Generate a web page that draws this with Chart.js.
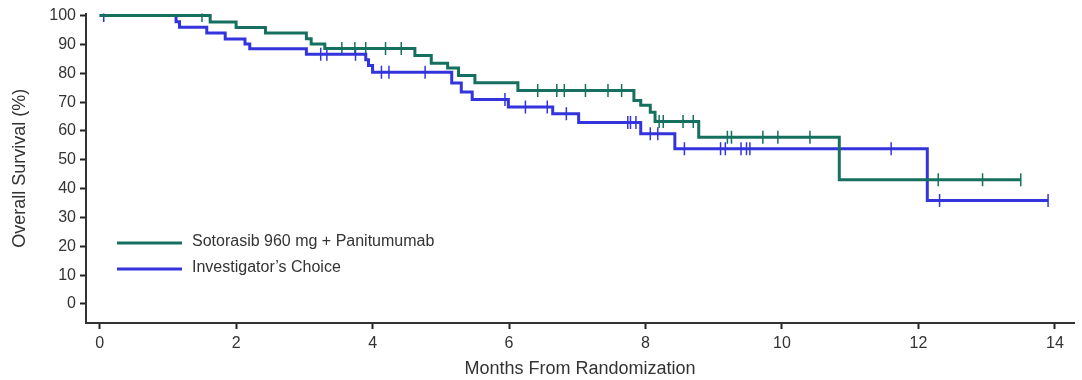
<!DOCTYPE html>
<html>
<head>
<meta charset="utf-8">
<script src="https://cdn.jsdelivr.net/npm/chart.js@4"></script>
<style>
  html, body { margin: 0; padding: 0; background: #fff; }
  #wrap { width: 1082px; height: 380px; }
</style>
</head>
<body>
<div id="wrap"><canvas id="myChart" width="1082" height="380"></canvas></div>
<script>
// Kaplan-Meier steps: time (months) and survival (%) after each drop
const sotoTimes = [0, 1.62, 2.0, 2.43, 3.03, 3.1, 3.3, 4.62, 4.86, 5.1, 5.26, 5.5, 6.13, 7.83, 7.93, 8.07, 8.14, 8.78, 10.84, 13.5];
const sotoSurv  = [100, 97.8, 95.9, 94.0, 92.0, 90.2, 88.6, 86.2, 83.5, 81.8, 79.2, 76.7, 74.0, 70.6, 68.9, 66.5, 63.3, 57.8, 43.1, 43.1];
const sotoCensor = [1.5, 3.55, 3.74, 3.9, 4.19, 4.42, 6.42, 6.7, 6.81, 7.12, 7.45, 7.65, 8.2, 8.26, 8.55, 8.7, 9.2, 9.26, 9.72, 9.94, 10.41, 12.29, 12.94, 13.5];

const invTimes = [0, 1.12, 1.17, 1.57, 1.84, 2.13, 2.2, 3.03, 3.9, 3.94, 4.0, 5.16, 5.3, 5.46, 5.99, 6.64, 7.02, 7.93, 8.43, 12.13, 13.9];
const invSurv  = [100, 97.9, 96.0, 94.0, 91.9, 90.2, 88.5, 86.6, 84.7, 82.7, 80.4, 76.6, 73.5, 70.9, 68.3, 66.0, 62.9, 59.0, 53.8, 35.9, 35.9];
const invCensor = [0.06, 3.24, 3.33, 3.75, 4.13, 4.24, 4.77, 5.94, 6.24, 6.56, 6.84, 7.74, 7.78, 7.86, 8.07, 8.18, 8.57, 9.1, 9.17, 9.4, 9.48, 9.53, 11.6, 12.31, 13.9];

const xTicks = [0, 2, 4, 6, 8, 10, 12, 14];
const yTicks = [0, 10, 20, 30, 40, 50, 60, 70, 80, 90, 100];

const greenCol = '#16705f';
const blueCol = '#3434dc';
const textCol = '#333';
const fontFam = '"Liberation Sans", Arial, sans-serif';

function stepPoints(times, surv) {
    return times.map((t, i) => ({ x: t, y: surv[i] }));
}
function survAt(times, surv, t) {
    let v = surv[0];
    for (let i = 0; i < times.length; i++) {
        if (times[i] <= t) v = surv[i];
    }
    return v;
}
function censorPoints(cens, times, surv) {
    return cens.map(t => ({ x: t, y: survAt(times, surv, t) }));
}

const legendPlugin = {
    id: 'kmLegend',
    afterDatasetsDraw(chart) {
        const ctx = chart.ctx;
        const items = [
            { text: 'Sotorasib 960 mg + Panitumumab', color: greenCol, y: 243 },
            { text: 'Investigator\u2019s Choice', color: blueCol, y: 269 }
        ];
        ctx.save();
        ctx.font = '16px ' + fontFam;
        ctx.textBaseline = 'middle';
        items.forEach(it => {
            ctx.strokeStyle = it.color;
            ctx.lineWidth = 3;
            ctx.beginPath();
            ctx.moveTo(117, it.y);
            ctx.lineTo(182, it.y);
            ctx.stroke();
            ctx.fillStyle = textCol;
            ctx.fillText(it.text, 192, it.y - 1);
        });
        ctx.restore();
    }
};

const data = {
    datasets: [
        {
            label: 'Sotorasib 960 mg + Panitumumab',
            data: stepPoints(sotoTimes, sotoSurv),
            borderColor: greenCol,
            borderWidth: 3,
            stepped: 'before',
            pointRadius: 0,
            showLine: true
        },
        {
            label: 'Investigator\u2019s Choice',
            data: stepPoints(invTimes, invSurv),
            borderColor: blueCol,
            borderWidth: 3,
            stepped: 'before',
            pointRadius: 0,
            showLine: true
        },
        {
            label: 'soto censor',
            data: censorPoints(sotoCensor, sotoTimes, sotoSurv),
            showLine: false,
            pointStyle: 'line',
            rotation: 90,
            pointRadius: 6.5,
            pointBorderWidth: 1.5,
            borderColor: greenCol,
            pointBorderColor: greenCol
        },
        {
            label: 'inv censor',
            data: censorPoints(invCensor, invTimes, invSurv),
            showLine: false,
            pointStyle: 'line',
            rotation: 90,
            pointRadius: 6.5,
            pointBorderWidth: 1.5,
            borderColor: blueCol,
            pointBorderColor: blueCol
        }
    ]
};

const config = {
    type: 'scatter',
    data,
    options: {
        responsive: false,
        animation: false,
        layout: { padding: { top: 12, right: 2, left: 0, bottom: 0 } },
        plugins: {
            legend: { display: false },
            tooltip: { enabled: false }
        },
        scales: {
            x: {
                type: 'linear',
                min: -0.2,
                max: 14.28,
                afterBuildTicks: s => { s.ticks = xTicks.map(v => ({ value: v })); },
                afterFit: s => { s.height = 57; },
                grid: { display: true, drawOnChartArea: false, tickLength: 6, tickWidth: 2, tickColor: '#222' },
                border: { display: true, color: '#333', width: 2 },
                ticks: { color: textCol, font: { size: 16, family: fontFam }, padding: 5 },
                title: { display: true, text: 'Months From Randomization', color: textCol, font: { size: 18, family: fontFam }, padding: { top: 0, bottom: 0 } }
            },
            y: {
                min: -6.6,
                max: 100.7,
                afterBuildTicks: s => { s.ticks = yTicks.map(v => ({ value: v })); },
                afterFit: s => { s.width = 86; },
                grid: { display: true, drawOnChartArea: false, tickLength: 6, tickWidth: 2, tickColor: '#222' },
                border: { display: true, color: '#333', width: 2 },
                ticks: { color: textCol, font: { size: 16, family: fontFam }, padding: 4 },
                title: { display: true, text: 'Overall Survival (%)', color: textCol, font: { size: 18, family: fontFam }, padding: { top: 9, bottom: 0 } }
            }
        }
    },
    plugins: [legendPlugin]
};

var myChart = new Chart(document.getElementById('myChart'), config);
</script>
</body>
</html>
